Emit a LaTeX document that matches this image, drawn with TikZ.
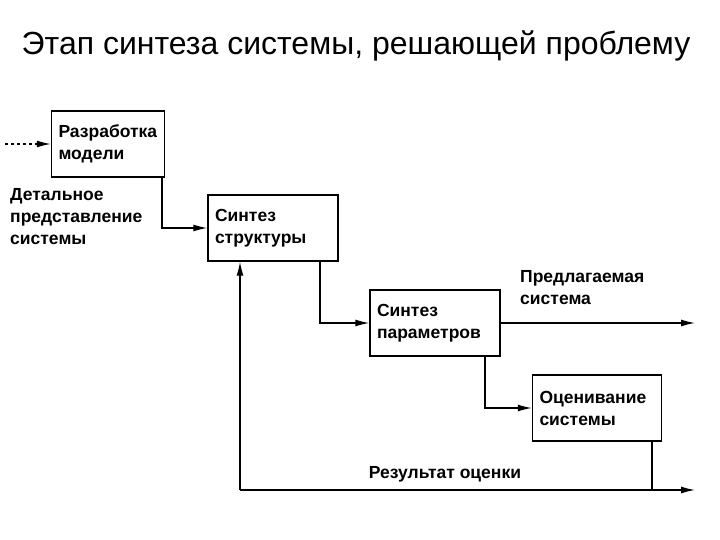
\documentclass[tikz,border=0pt]{standalone}
\usepackage{fontspec}
\setmainfont{Liberation Sans}
\usetikzlibrary{arrows.meta}
\begin{document}
\begin{tikzpicture}[x=1pt,y=-1pt,
  box/.style={draw,line width=1.3pt,minimum width=#1,minimum height=66pt,text width=#1-14pt,align=left,font=\bfseries\fontsize{17.5}{22}\selectfont,inner sep=7pt},
  lbl/.style={align=left,font=\bfseries\fontsize{17.5}{22}\selectfont,inner sep=0pt},
  conn/.style={line width=1.3pt,-{Latex[length=14pt,width=7pt]}}]
\useasboundingbox (0,0) rectangle (720,540);
\node (t) at (356,46) {\fontsize{32}{36}\selectfont Этап синтеза системы, решающей проблему};
\node[box=113pt] (b1) at (108,144) {Разработка\\модели};
\node[box=130pt] (b2) at (273,228) {Синтез\\структуры};
\node[box=130pt] (b3) at (435,323) {Синтез\\параметров};
\node[box=129pt] (b4) at (597,408) {Оценивание\\системы};
\coordinate (in) at (5,144);
\draw[conn,dashed] (in) -- (b1.west);
\draw[conn] (b1.south -| 162,0) |- (b2.west);
\draw[conn] (b2.south -| 320,0) |- (b3.west);
\draw[conn] (b3.south -| 485,0) |- (b4.west);
\coordinate (out) at (695,323);
\draw[conn] (b3.east) -- (out);
\coordinate (fb) at (240,490);
\coordinate (fe) at (695,490);
\draw[line width=1.3pt] (b4.south -| 652,0) -- (652,490);
\draw[conn] (fb) -- (fe);
\draw[conn] (fb) -- (b2.south -| fb);
\node[lbl,anchor=north west] (l1) at (10,188) {Детальное\\представление\\системы};
\node[lbl,anchor=south west] (l2) at (520,305) {Предлагаемая\\система};
\node[lbl] (l3) at (445,474) {Результат оценки};
\end{tikzpicture}
\end{document}
